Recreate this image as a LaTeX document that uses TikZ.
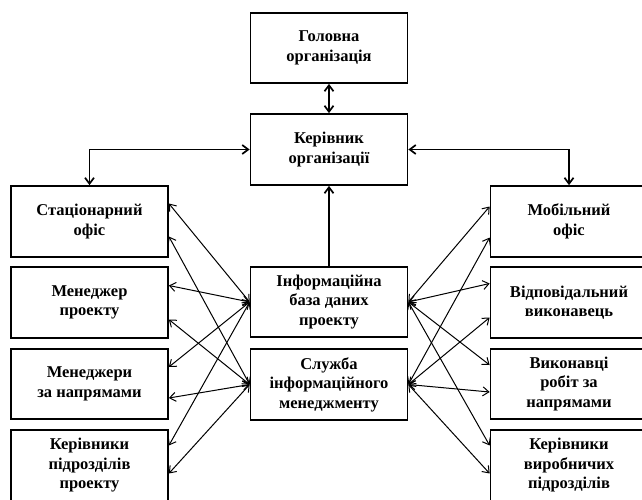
\documentclass[tikz,border=0pt]{standalone}
\usepackage{fontspec}
\setmainfont{Liberation Serif}
\usetikzlibrary{arrows.meta}

\begin{document}
\begin{tikzpicture}[x=1pt, y=-1pt,
  box/.style={draw, line width=1.7pt, minimum width=157pt, minimum height=71pt,
    align=center, inner sep=2pt, font=\bfseries\fontsize{16.5}{19.5}\selectfont},
  link/.style={line width=1pt, {Straight Barb[length=6pt, width=9pt]}-{Straight Barb[length=6pt, width=9pt]}},
  main/.style={line width=1.7pt}]
  \useasboundingbox (0,0) rectangle (642,499);
  % центр
  \node[box, minimum height=70pt] (gol) at (329,48) {Головна\\організація};
  \node[box] (ker) at (329,149.5) {Керівник\\організації};
  \node[box, minimum height=70pt] (info) at (329,302) {Інформаційна\\база даних\\проекту};
  \node[box] (sl) at (329,384.5) {Служба\\інформаційного\\менеджменту};
  % ліва колонка
  \node[box] (stat) at (89.5,221.5) {Стаціонарний\\офіс};
  \node[box] (men) at (89.5,302.5) {Менеджер\\проекту};
  \node[box, minimum height=70pt] (menn) at (89.5,384) {Менеджери\\за напрямами};
  \node[box] (kerp) at (89.5,465.5) {Керівники\\підрозділів\\проекту};
  % права колонка
  \node[box] (mob) at (569,221.5) {Мобільний\\офіс};
  \node[box] (vidp) at (569,302.5) {Відповідальний\\виконавець};
  \node[box, minimum height=70pt] (vyk) at (569,384) {Виконавці\\робіт за\\напрямами};
  \node[box] (kerv) at (569,465.5) {Керівники\\виробничих\\підрозділів};

  \draw[main, {Straight Barb[length=6pt, width=9pt]}-{Straight Barb[length=6pt, width=9pt]}] (gol) -- (ker);
  \draw[main, {Straight Barb[length=6pt, width=9pt]}-{Straight Barb[length=6pt, width=9pt]}] (ker.west) -| (stat.north);
  \draw[main, {Straight Barb[length=6pt, width=9pt]}-{Straight Barb[length=6pt, width=9pt]}] (ker.east) -| (mob.north);
  \draw[main, -{Straight Barb[length=6pt, width=9pt]}] (info) -- (ker);

  % зв'язки з базою даних та службою
  \foreach \b/\u/\l in {stat/18/-15, men/17/-17, menn/17/-14, kerp/20/-8}{
    \draw[link] ([yshift=\u pt]\b.east) -- (info.west);
    \draw[link] ([yshift=\l pt]\b.east) -- (sl.west);
  }
  \foreach \b/\u/\l in {mob/15/-16, vidp/19/-15, vyk/19/-8, kerv/20/-8}{
    \draw[link] ([yshift=\u pt]\b.west) -- (info.east);
    \draw[link] ([yshift=\l pt]\b.west) -- (sl.east);
  }
\end{tikzpicture}
\end{document}
